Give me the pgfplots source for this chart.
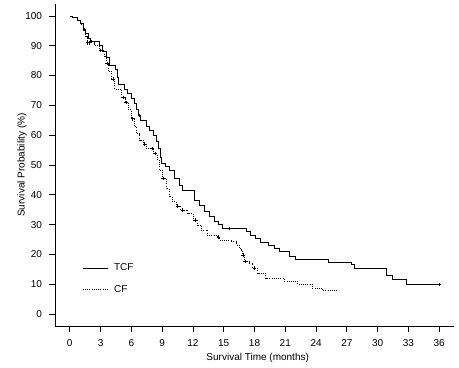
\documentclass[border=0pt]{standalone}
\usepackage{pgfplots}
\pgfplotsset{compat=1.18}
\usepackage{fontspec}
\setmainfont{Liberation Sans}
\begin{document}
\begin{tikzpicture}
\begin{axis}[
  scale only axis,
  width=399pt, height=322pt,
  xmin=-1.44, xmax=37.44, ymin=-4, ymax=104,
  axis x line*=bottom, axis y line*=left,
  axis line style={line width=0.8pt},
  xtick={0,3,...,36}, ytick={0,10,...,100},
  tick align=outside, major tick length=6pt,
  tick style={line width=0.8pt, black},
  minor tick num=0,
  /pgf/number format/assume math mode=true,
  ticklabel style={font=\fontsize{10}{12}\selectfont},
  xticklabel style={yshift=-4pt},
  yticklabel style={xshift=-3.5pt},
  xlabel={Survival Time (months)},
  ylabel={Survival Probability (\%)},
  label style={font=\fontsize{10}{12}\selectfont},
  xlabel style={at={(axis description cs:0.508,-0.1)}, anchor=center},
  ylabel style={at={(axis description cs:-0.0827,0.5)}, anchor=center, rotate=0},
  legend style={draw=none, fill=none, at={(axis description cs:0.068,0.2)}, anchor=north west,
    font=\fontsize{10}{12}\selectfont, row sep=9pt, column sep=4pt, inner sep=0pt},
  legend cell align=left,
]
\addplot[const plot, black, line width=0.8pt,
  legend image code/.code={\draw[black, line width=0.8pt] (0pt,0pt) -- (25pt,0pt);}]
coordinates {
(0,100) (0.3,99.5) (0.7,98.5) (1.0,97.5) (1.3,95.5) (1.5,94.0) (1.8,92.3) (2.0,91.5)
(2.9,90.2) (3.2,88.0) (3.55,86.2) (3.9,83.4) (4.4,82.0) (4.6,79.5) (4.75,77.0) (5.3,75.5)
(5.6,74.0) (6.0,72.5) (6.3,70.5) (6.5,68.5) (6.7,66.5) (6.9,64.8) (7.45,62.8) (7.8,61.5)
(8.1,60.0) (8.4,58.0) (8.6,55.5) (8.8,52.5) (8.9,50.5) (9.3,49.5) (9.7,48.3) (10.2,45.5)
(10.7,43.2) (11.0,41.6) (12.1,38.2) (12.6,36.6) (13.1,34.3) (13.6,32.6) (14.1,31.0)
(14.5,30.0) (14.9,28.8) (17.2,27.6) (17.6,26.5) (18.1,25.4) (18.6,24.0) (19.4,23.0)
(19.9,21.9) (20.4,21.0) (21.4,19.5) (22.0,18.4) (25.2,17.4) (27.4,16.5) (27.7,15.4)
(30.9,13.1) (31.4,11.5) (32.8,10.0) (36.0,10.0)
};
\addlegendentry{TCF}
\addplot[const plot, black, line width=0.8pt, dash pattern=on 1pt off 1.2pt,
  legend image code/.code={\draw[black, line width=0.8pt, dash pattern=on 1pt off 1.2pt] (0pt,0pt) -- (25pt,0pt);}]
coordinates {
(0,100) (0.3,99.5) (0.7,98.5) (1.0,97.0) (1.3,95.0) (1.5,93.0) (1.7,91.0) (2.4,90.0)
(2.9,88.4) (3.4,86.5) (3.6,84.0) (3.75,81.5) (4.05,78.8) (4.37,75.5) (5.0,72.6) (5.4,71.0)
(5.7,68.5) (6.0,65.5) (6.3,63.0) (6.5,60.5) (6.8,58.3) (7.2,57.0) (7.45,55.5) (8.1,53.8)
(8.57,51.6) (8.7,48.3) (9.06,45.5) (9.4,42.0) (9.7,39.3) (10.0,37.7) (10.4,36.2) (10.8,34.9)
(11.5,33.8) (12.0,31.5) (12.45,29.9) (12.8,28.2) (13.4,26.5) (14.4,25.8) (14.56,24.8)
(15.7,24.3) (16.2,23.2) (16.5,22.1) (16.7,21.5) (16.8,19.8) (17.0,17.6) (17.5,17.1)
(17.8,15.4) (18.3,13.7) (19.1,12.0) (20.9,11.1) (22.2,10.0) (23.6,8.7) (24.6,7.9) (26.0,7.9)
};
\addlegendentry{CF}
\addplot[only marks, mark=+, mark size=1.8pt, black, line width=0.6pt, forget plot]
coordinates {
(1.75,91.0) (1.95,91.0) (3.0,88.4) (3.65,84.0) (4.2,78.8) (5.2,72.6) (5.5,71.0) (6.1,65.5)
(7.3,57.0) (8.0,55.5) (8.3,53.8) (9.1,45.5) (10.5,36.2) (11.0,34.9) (12.2,31.5) (14.5,25.8)
(16.9,19.8) (17.1,17.6) (18.0,15.4)
};
\addplot[only marks, mark=+, mark size=1.5pt, black, line width=0.6pt, forget plot]
coordinates {
(1.4,95.5) (2.1,91.5) (6.8,66.5) (15.5,28.8) (36.0,10.0)
};
\end{axis}
\path ([xshift=-55pt,yshift=-42pt]current axis.south west) rectangle ([xshift=5pt,yshift=4pt]current axis.north east);
\end{tikzpicture}
\end{document}
